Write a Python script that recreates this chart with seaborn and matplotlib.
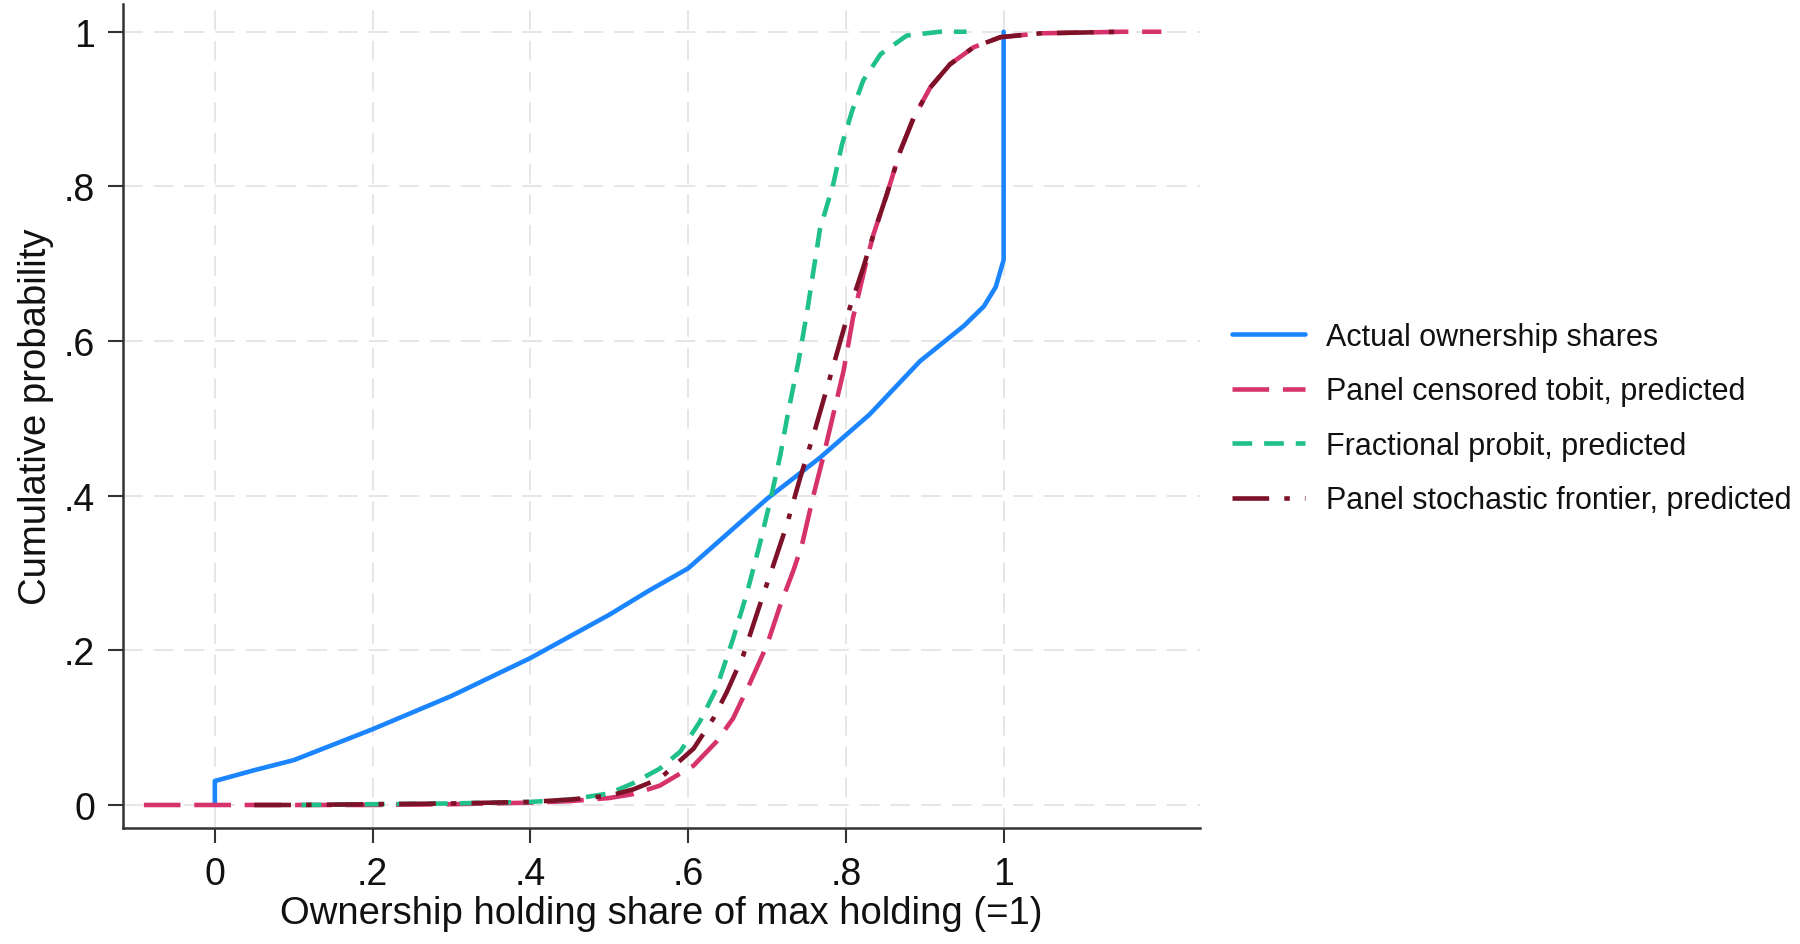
import numpy as np
import pandas as pd
import matplotlib
matplotlib.use('Agg')
import matplotlib.pyplot as plt
from matplotlib.lines import Line2D
import seaborn as sns

# cumulative distributions
actual_x = [0.0, 0.0, 0.05, 0.1, 0.2, 0.3, 0.4, 0.5, 0.55, 0.6, 0.64, 0.7, 0.767, 0.83,
            0.894, 0.95, 0.975, 0.99, 1.0, 1.0]
actual_y = [0.0, 0.031, 0.045, 0.058, 0.098, 0.141, 0.19, 0.246, 0.277, 0.306, 0.342,
            0.396, 0.449, 0.505, 0.574, 0.62, 0.645, 0.67, 0.705, 1.0]

tobit_x = [-0.09, 0.0, 0.1, 0.2, 0.3, 0.4, 0.45, 0.5, 0.53, 0.564, 0.607, 0.636, 0.657,
           0.679, 0.7, 0.717, 0.733, 0.744, 0.759, 0.772, 0.784, 0.797, 0.809, 0.826,
           0.835, 0.852, 0.869, 0.886, 0.907, 0.932, 0.962, 0.996, 1.047, 1.1, 1.15, 1.2]
tobit_y = [0.0, 0.0, 0.0, 0.0, 0.001, 0.003, 0.005, 0.009, 0.014, 0.025, 0.051, 0.082,
           0.112, 0.159, 0.207, 0.259, 0.302, 0.335, 0.401, 0.453, 0.505, 0.561, 0.63,
           0.703, 0.738, 0.79, 0.846, 0.889, 0.928, 0.958, 0.98, 0.993, 0.998, 0.999,
           1.0, 1.0]

probit_x = [0.11, 0.2, 0.3, 0.4, 0.45, 0.5, 0.53, 0.564, 0.59, 0.615, 0.636, 0.657, 0.674,
            0.691, 0.704, 0.717, 0.727, 0.74, 0.751, 0.767, 0.784, 0.795, 0.808, 0.822,
            0.844, 0.877, 0.919, 0.953]
probit_y = [0.0, 0.001, 0.002, 0.004, 0.007, 0.015, 0.028, 0.047, 0.069, 0.108, 0.151,
            0.215, 0.272, 0.338, 0.393, 0.453, 0.509, 0.574, 0.639, 0.744, 0.803, 0.854,
            0.898, 0.937, 0.971, 0.995, 1.0, 1.0]

frontier_x = [0.05, 0.1, 0.2, 0.3, 0.4, 0.45, 0.5, 0.53, 0.564, 0.607, 0.632, 0.649, 0.67,
              0.691, 0.708, 0.725, 0.742, 0.759, 0.776, 0.793, 0.805, 0.822, 0.835, 0.852,
              0.869, 0.886, 0.907, 0.932, 0.962, 0.996, 1.047, 1.1, 1.147]
frontier_y = [0.0, 0.0, 0.001, 0.002, 0.004, 0.007, 0.012, 0.02, 0.034, 0.073, 0.112,
              0.146, 0.194, 0.259, 0.31, 0.362, 0.423, 0.479, 0.539, 0.6, 0.643, 0.695,
              0.738, 0.79, 0.846, 0.889, 0.928, 0.958, 0.98, 0.993, 0.998, 0.999, 1.0]

names = ['Actual ownership shares', 'Panel censored tobit, predicted',
         'Fractional probit, predicted', 'Panel stochastic frontier, predicted']
tick_vals = [0, 0.2, 0.4, 0.6, 0.8, 1]
tick_labels = ['0', '.2', '.4', '.6', '.8', '1']

frames = []
for name, xs, ys in zip(names, [actual_x, tobit_x, probit_x, frontier_x],
                        [actual_y, tobit_y, probit_y, frontier_y]):
    frames.append(pd.DataFrame({'share': xs, 'cdf': ys, 'model': name}))
df = pd.concat(frames, ignore_index=True)

palette = dict(zip(names, ['#1a85ff', '#d6336c', '#1fc08a', '#7d1128']))
dash_map = dict(zip(names, ['', (8, 3), (4.3, 2.6), (8, 3.3, 1.2, 3.3)]))
lw = 3.3

sns.set_theme(style='white')
plt.rcParams['font.family'] = ['Liberation Sans', 'DejaVu Sans']
plt.rcParams['text.color'] = '#111111'
plt.rcParams['xtick.color'] = '#111111'
plt.rcParams['ytick.color'] = '#111111'
plt.rcParams['axes.labelcolor'] = '#111111'

fig = plt.figure(figsize=(18, 9.45), dpi=100)
ax = fig.add_axes([0.0683, 0.1228, 0.5984, 0.872])

sns.lineplot(data=df, x='share', y='cdf', hue='model', style='model',
             hue_order=names, style_order=names, palette=palette, dashes=dash_map,
             sort=False, estimator=None, linewidth=lw, legend=False, ax=ax)

ax.set_xlim(-0.1165, 1.249)
ax.set_ylim(-0.0297, 1.036)
ax.set_xticks(tick_vals)
ax.set_xticklabels(tick_labels)
ax.set_yticks(tick_vals)
ax.set_yticklabels(tick_labels)
ax.tick_params(axis='both', direction='out', length=11, width=1.5, color='#333333',
               labelsize=27, bottom=True, left=True, pad=9)
ax.grid(True, linestyle=(0, (11, 6)), color='#e4e4e4', linewidth=1.3)
for s in ['top', 'right']:
    ax.spines[s].set_visible(False)
for s in ['left', 'bottom']:
    ax.spines[s].set_color('#333333')
    ax.spines[s].set_linewidth(1.8)

ax.set_xlabel('Ownership holding share of max holding (=1)', fontsize=27.5)
ax.set_ylabel('Cumulative probability', fontsize=27.5)
ax.xaxis.set_label_coords(0.5, -0.081)
ax.yaxis.set_label_coords(-0.064, 0.5)

handles = []
for name in names:
    h = Line2D([], [], color=palette[name], linewidth=lw)
    if dash_map[name]:
        h.set_dashes(dash_map[name])
    handles.append(h)
fig.legend(handles, names, loc='center left', bbox_to_anchor=(0.669, 0.556),
           frameon=False, fontsize=22, handlelength=2.4, labelspacing=0.8,
           handletextpad=0.7)

plt.savefig('out.png', dpi=100)
